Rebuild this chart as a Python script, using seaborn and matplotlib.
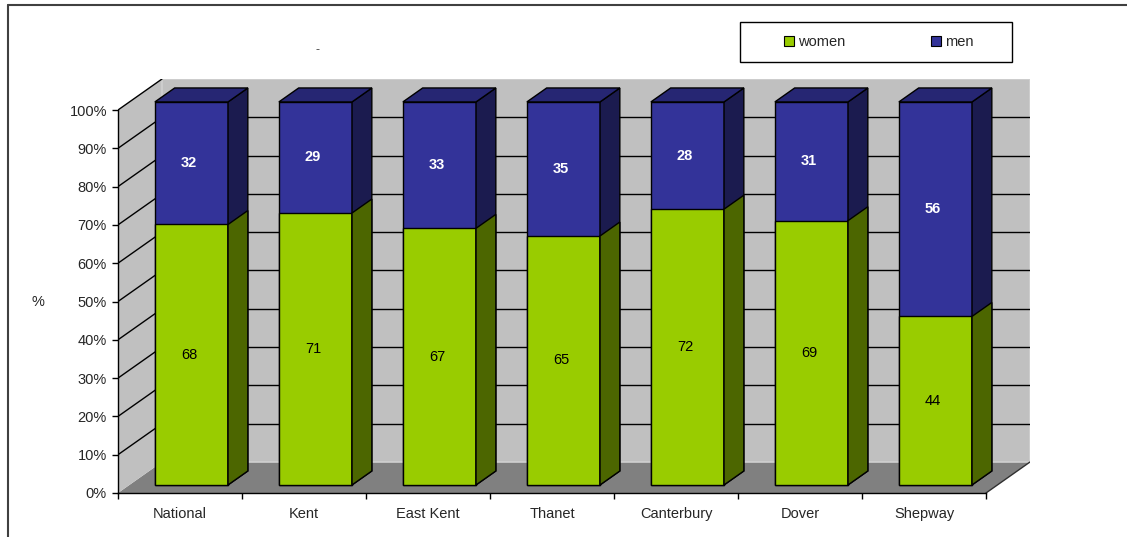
import matplotlib
matplotlib.use("Agg")
import matplotlib.pyplot as plt
import seaborn as sns
import pandas as pd
import numpy as np
from matplotlib.patches import Polygon, Rectangle, Patch
from matplotlib.lines import Line2D

# ---------------- data ----------------
regions = ["National", "Kent", "East Kent", "Thanet", "Canterbury", "Dover", "Shepway"]
women = [68, 71, 67, 65, 72, 69, 44]
men = [32, 29, 33, 35, 28, 31, 56]
y_ticks = list(range(0, 101, 10))
y_tick_labels = [f"{v}%" for v in y_ticks]
series_names = ["women", "men"]

# ---------------- style ----------------
GREEN = "#99CC00"
GREEN_SIDE = "#4C6600"
NAVY = "#333399"
NAVY_SIDE = "#1B1B4F"
NAVY_TOP = "#262673"
WALL = "#C0C0C0"
FLOOR = "#808080"
FS = 10.5

sns.set_style("white")
plt.rcParams["font.family"] = ["Liberation Sans", "DejaVu Sans"]

W, H = 1127, 537
fig = plt.figure(figsize=(W / 100, H / 100), dpi=100)
n = len(regions)
DX, DY = 0.355, 8.1          # full depth offset (category units, percent units)
ax = fig.add_axes([118 / W, (H - 493) / H, (n + DX) * 124 / W, (100 + DY) * 3.83 / H])

# walls and floor
ax.add_patch(Polygon([(0, 0), (n, 0), (n + DX, DY), (DX, DY)], closed=True,
                     fc=FLOOR, ec="none", zorder=0))
ax.add_patch(Polygon([(0, 0), (DX, DY), (DX, 100 + DY), (0, 100)], closed=True,
                     fc=WALL, ec="none", zorder=0))
ax.add_patch(Rectangle((DX, DY), n, 100, fc=WALL, ec="#D0D0D0", lw=1.2, zorder=0.1))
for v in y_ticks[1:]:
    ax.plot([0, DX], [v, v + DY], color="black", lw=1, zorder=0.5)
    if v < 100:
        ax.plot([DX, n + DX], [v + DY, v + DY], color="black", lw=1, zorder=0.5)
ax.plot([n, n + DX], [0, DY], color="#303030", lw=1, zorder=0.5)

# bars
df = pd.DataFrame({"region": regions, "women": women, "men": men})
df["total"] = df["women"] + df["men"]
F0, FD = 0.26, 0.45
df["pos"] = np.arange(n) + 0.5 + F0 * DX
base = F0 * DY
BAR_W = 0.59

sns.barplot(data=df, x="pos", y="total", native_scale=True, width=BAR_W, color=NAVY,
            saturation=1, edgecolor="black", linewidth=1, bottom=base, errorbar=None,
            ax=ax, zorder=2)
men_bars = ax.containers[-1]
sns.barplot(data=df, x="pos", y="women", native_scale=True, width=BAR_W, color=GREEN,
            saturation=1, edgecolor="black", linewidth=1, bottom=base, errorbar=None,
            ax=ax, zorder=2)
women_bars = ax.containers[-1]

ddx, ddy = FD * DX, FD * DY
for bars, side, top, z in [(men_bars, NAVY_SIDE, NAVY_TOP, 2.2), (women_bars, GREEN_SIDE, None, 2.3)]:
    for p in bars:
        x0 = p.get_x(); x1 = x0 + p.get_width()
        y0 = p.get_y(); y1 = y0 + p.get_height()
        ax.add_patch(Polygon([(x1, y0), (x1 + ddx, y0 + ddy), (x1 + ddx, y1 + ddy), (x1, y1)],
                             closed=True, fc=side, ec="black", lw=1, zorder=z))
        if top:
            ax.add_patch(Polygon([(x0, y1), (x0 + ddx, y1 + ddy), (x1 + ddx, y1 + ddy), (x1, y1)],
                                 closed=True, fc=top, ec="black", lw=1, zorder=z))

for pw, w, m in zip(women_bars, women, men):
    cx = pw.get_x() + pw.get_width() / 2 - 0.02
    ax.text(cx, pw.get_y() + w / 2, f"{w}", ha="center", va="center", color="black",
            fontsize=FS, zorder=5)
    ax.text(cx, pw.get_y() + w + m / 2, f"{m}", ha="center", va="center", color="white",
            fontsize=FS, fontweight="semibold", zorder=5)

# axes
ax.set_xlim(0, n + DX)
ax.set_ylim(0, 100 + DY)
for s in ["top", "right"]:
    ax.spines[s].set_visible(False)
ax.spines["left"].set_bounds(0, 100)
ax.spines["bottom"].set_bounds(0, n)
for s in ["left", "bottom"]:
    ax.spines[s].set_color("black")
    ax.spines[s].set_linewidth(1)
    ax.spines[s].set_zorder(3)
ax.set_yticks(y_ticks)
ax.set_yticklabels(y_tick_labels, fontsize=FS)
ax.set_xticks(range(n + 1))
ax.set_xticklabels([])
ax.set_xticks(np.arange(n) + 0.5, minor=True)
ax.set_xticklabels(regions, minor=True, fontsize=FS)
ax.tick_params(axis="x", which="major", bottom=True, length=4, width=1, color="black", direction="out")
ax.tick_params(axis="x", which="minor", bottom=True, length=0, pad=10)
ax.tick_params(axis="y", left=True, length=4, width=1, color="black", direction="out", pad=4)
ax.set_xlabel("")
ax.set_ylabel("")
ax.patch.set_alpha(0)

fig.text(38 / W, 1 - 302 / H, "%", ha="center", va="center", fontsize=FS)
fig.text(318 / W, 1 - 50 / H, "-", ha="center", va="center", fontsize=9, color="#444444")

# legend
fig.add_artist(Rectangle((740 / W, 1 - 62 / H), 272 / W, 40 / H, transform=fig.transFigure,
                         fc="white", ec="black", lw=1))
handles = [Patch(fc=GREEN, ec="black", lw=0.8), Patch(fc=NAVY, ec="black", lw=0.8)]
fig.legend(handles, series_names, ncol=2, frameon=False, loc="center left",
           bbox_to_anchor=(784 / W, 1 - 42 / H), fontsize=FS, handlelength=0.7,
           handleheight=0.7, handletextpad=0.25, columnspacing=5.9, borderpad=0,
           borderaxespad=0)

# outer frame
fig.add_artist(Line2D([8 / W, 8 / W], [0, 1 - 5 / H], transform=fig.transFigure, color="#404040", lw=1.5))
fig.add_artist(Line2D([8 / W, 1], [1 - 5 / H, 1 - 5 / H], transform=fig.transFigure, color="#404040", lw=1.5))

fig.savefig("out.png", dpi=100)
